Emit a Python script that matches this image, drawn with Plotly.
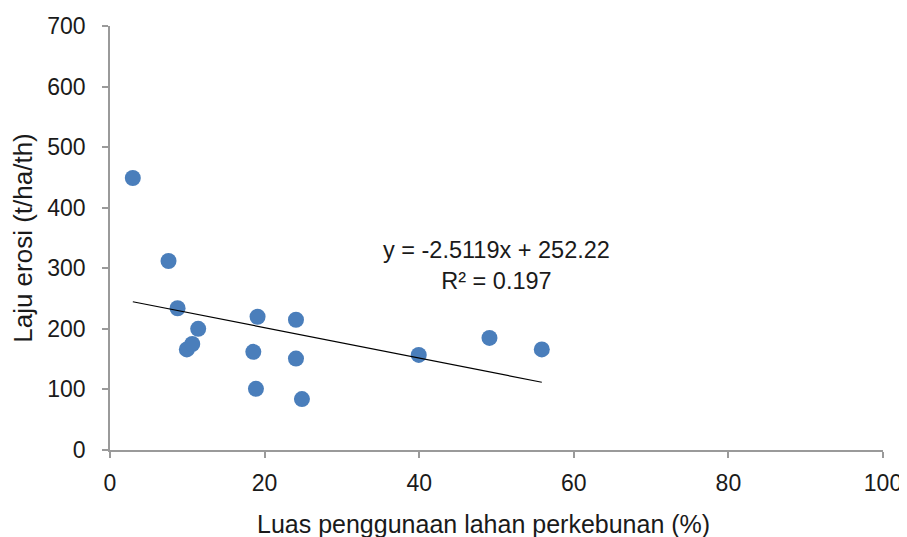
import plotly.graph_objects as go

luas = [2.95, 7.57, 8.74, 11.41, 9.94, 10.64, 19.09, 18.54, 18.88, 24.06, 24.06, 24.83, 39.94, 49.09, 55.86]
erosi = [449, 312, 234, 200, 166, 175, 220, 162, 101, 215, 151, 84, 157, 185, 166]

slope = -2.5119
intercept = 252.22
r2 = 0.197

x_ticks = [0, 20, 40, 60, 80, 100]
y_ticks = [0, 100, 200, 300, 400, 500, 600, 700]

x_title = "Luas penggunaan lahan perkebunan (%)"
y_title = "Laju erosi (t/ha/th)"

FONT = "Liberation Sans"
AX = "#9a9a9a"
TXT = "#1a1a1a"

fig = go.Figure()
fig.add_trace(go.Scatter(
    x=luas, y=erosi, mode="markers",
    marker=dict(size=16, color="#4A7EBB"),
    showlegend=False, hoverinfo="x+y"))

tx = [min(luas), max(luas)]
ty = [slope * v + intercept for v in tx]
fig.add_trace(go.Scatter(x=tx, y=ty, mode="lines",
                         line=dict(color="black", width=1.2),
                         showlegend=False, hoverinfo="skip"))

fig.add_annotation(x=50, y=305, xref="x", yref="y",
                   text=f"y = {slope}x + {intercept}<br>R² = {r2}",
                   showarrow=False, align="center",
                   font=dict(family=FONT, size=23.5, color=TXT))

fig.add_annotation(x=0.4838, y=-0.1745, xref="paper", yref="paper",
                   xanchor="center", yanchor="middle",
                   text=x_title, showarrow=False,
                   font=dict(family=FONT, size=25, color=TXT))

fig.update_xaxes(range=[0, 100], tickvals=x_ticks, showgrid=False, zeroline=False,
                 showline=True, linecolor=AX, linewidth=1.5,
                 ticks="outside", tickcolor=AX, ticklen=6, tickwidth=1.5,
                 ticklabelstandoff=6, automargin=False,
                 tickfont=dict(family=FONT, size=23, color=TXT))
fig.update_yaxes(range=[0, 700], tickvals=y_ticks, showgrid=False, zeroline=False,
                 showline=True, linecolor=AX, linewidth=1.5,
                 ticks="outside", tickcolor=AX, ticklen=6, tickwidth=1.5,
                 ticklabelstandoff=12, automargin=False,
                 tickfont=dict(family=FONT, size=23, color=TXT),
                 title=dict(text=y_title,
                            font=dict(family=FONT, size=26, color=TXT),
                            standoff=9))

fig.update_layout(width=907, height=537,
                  margin=dict(l=102, r=32, t=18, b=95),
                  plot_bgcolor="white", paper_bgcolor="white")

fig.write_html("out.html")
